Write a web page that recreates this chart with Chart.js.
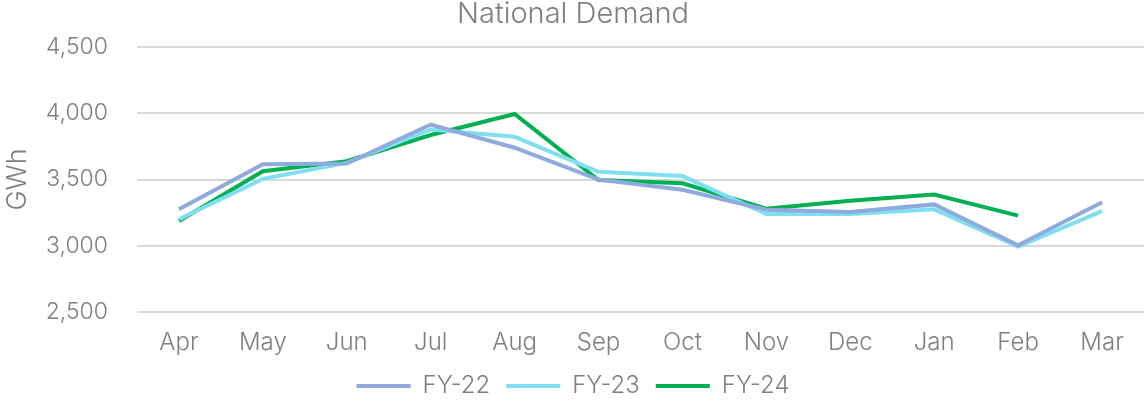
<!DOCTYPE html>
<html>
<head>
<meta charset="utf-8">
<script src="https://cdn.jsdelivr.net/npm/chart.js@4"></script>
<style>
  html, body { margin: 0; padding: 0; background: #fff; }
  #wrap { width: 1144px; height: 408px; }
</style>
</head>
<body>
<div id="wrap"><canvas id="myChart"></canvas></div>
<script>
const months = ["Apr", "May", "Jun", "Jul", "Aug", "Sep", "Oct", "Nov", "Dec", "Jan", "Feb", "Mar"]

const fy22 = [3275, 3615, 3620, 3915, 3740, 3500, 3422, 3272, 3255, 3312, 3003, 3328]
const fy23 = [3200, 3505, 3625, 3878, 3822, 3558, 3526, 3240, 3240, 3275, 2993, 3262]
const fy24 = [3187, 3562, 3638, 3836, 3994, 3496, 3471, 3280, 3340, 3386, 3227, null]

const textColor = "#7f7f7f"
const fontFamily = "Inter, Lato, sans-serif"

const data = {
  labels: months,
  datasets: [
    { label: "FY-22", data: fy22, borderColor: "#8faadc", backgroundColor: "#8faadc", borderWidth: 4 },
    { label: "FY-23", data: fy23, borderColor: "#7fdff0", backgroundColor: "#7fdff0", borderWidth: 4 },
    { label: "FY-24", data: fy24, borderColor: "#00b050", backgroundColor: "#00b050", borderWidth: 4 },
  ],
};

const config = {
  type: "line",
  data: data,
  options: {
    responsive: true,
    maintainAspectRatio: false,
    animation: false,
    layout: { padding: { left: 2, right: 0, top: 0, bottom: 0 } },
    elements: {
      line: { tension: 0 },
      point: { radius: 0 }
    },
    scales: {
      x: {
        offset: true,
        grid: { display: false, drawTicks: false },
        border: { display: false },
        ticks: { color: textColor, padding: 19, font: { family: fontFamily, size: 24, weight: 300, lineHeight: 1 } },
        afterFit: (s) => { s.height = 46 }
      },
      y: {
        min: 2500,
        max: 4500,
        grid: { color: "#d9d9d9", lineWidth: 2, drawTicks: false },
        border: { display: false },
        ticks: {
          stepSize: 500,
          padding: 29,
          color: textColor,
          font: { family: fontFamily, size: 23, weight: 300 },
          callback: (v) => v.toLocaleString("en-US")
        },
        title: {
          display: true,
          text: "GWh",
          color: textColor,
          padding: 0,
          font: { family: fontFamily, size: 27, weight: 300 }
        },
        afterFit: (s) => { s.width = 135 }
      }
    },
    plugins: {
      legend: {
        display: true,
        position: "bottom",
        labels: {
          color: textColor,
          usePointStyle: true,
          pointStyle: "line",
          pointStyleWidth: 54,
          padding: 16,
          font: { family: fontFamily, size: 24, weight: 300 }
        }
      },
      title: {
        display: true,
        text: "National Demand",
        color: textColor,
        padding: { top: 0, bottom: 18 },
        font: { family: fontFamily, size: 29, weight: 300, lineHeight: 1 }
      }
    }
  },
};

const MyChart = new Chart(
  document.getElementById("myChart"),
  config
);
</script>
</body>
</html>
